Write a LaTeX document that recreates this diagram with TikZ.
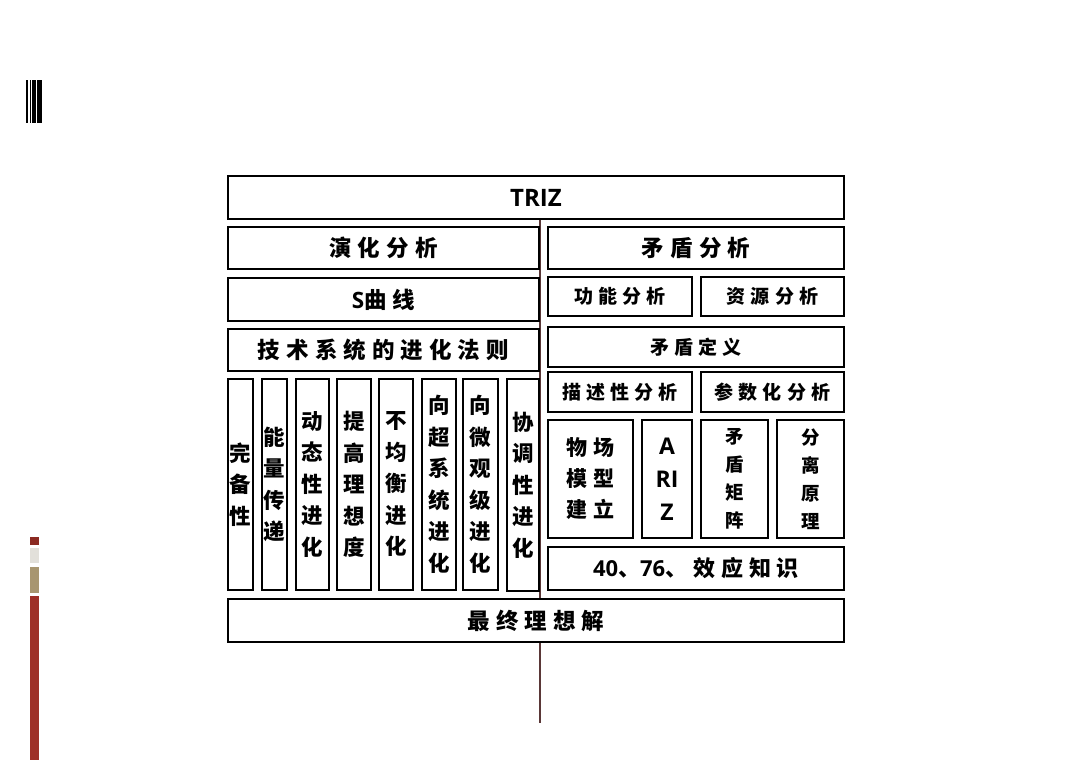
\documentclass[tikz,border=0pt]{standalone}
\usepackage{fontspec}
\usepackage{xcolor}
\usepackage{tikz}
\newfontfamily\cjk{Noto Sans CJK SC}
\newfontfamily\cjksp[LetterSpace=27]{Noto Sans CJK SC}
\newfontfamily\lat{Open Sans}
\definecolor{axisline}{RGB}{90,55,55}
\definecolor{stripdark}{RGB}{139,42,34}
\definecolor{stripgray}{RGB}{226,224,218}
\definecolor{striptan}{RGB}{168,150,112}
\definecolor{stripred}{RGB}{158,48,40}
\tikzset{
  box/.style={draw, line width=1.5pt, fill=white, inner sep=0pt, align=center},
  wh/.style 2 args={minimum width=#1pt, minimum height=#2pt},
  bigtext/.style={font=\cjksp\bfseries\fontsize{22.5}{26}\selectfont},
  midtext/.style={font=\cjksp\bfseries\fontsize{19}{23}\selectfont},
  coltext/.style={font=\cjk\bfseries\fontsize{21.5}{31.5}\selectfont},
}

\begin{document}
\begin{tikzpicture}[x=1pt, y=-1pt]
\useasboundingbox (0,0) rectangle (1080,760);

% Slide decoration
\fill (26,80) rectangle (27.5,123);
\fill (30,80) rectangle (31.3,123);
\fill (32.2,80) rectangle (36,123);
\fill (37,80) rectangle (42,123);
\fill[stripdark] (30,537) rectangle (39,545);
\fill[stripgray] (30,548) rectangle (39,563);
\fill[striptan] (30,567) rectangle (39,593);
\fill[stripred] (30,596) rectangle (39,760);

% Middle axis
\coordinate (axtop) at (540,219);
\coordinate (axbot) at (540,723);
\draw[axisline, line width=1.3pt] (axtop) -- (axbot);

% Top and bottom
\node[box, wh={616}{43}, font=\lat\bfseries\fontsize{24}{28}\selectfont] (triz) at (536,197.5) {TRIZ};
\node[box, wh={616}{43}, bigtext] (ideal) at (536,620.5) {最终理想解};

% Evolution side
\node[box, wh={311}{42}, bigtext] (evo) at (383.5,248) {演化分析};
\node[box, wh={311}{43}, bigtext] (scurve) at (383.5,299.5) {{\lat\bfseries S}曲线};
\node[box, wh={311}{42}, bigtext] (laws) at (383.5,350) {技术系统的进化法则};

\node[box, wh={25}{211}, coltext] (law1) at (240.5,484.5) {完\\备\\性};
\node[box, wh={25}{211}, coltext] (law2) at (274.5,484.5) {能\\量\\传\\递};
\node[box, wh={33}{211}, coltext] (law3) at (312.5,484.5) {动\\态\\性\\进\\化};
\node[box, wh={34}{211}, coltext] (law4) at (354,484.5) {提\\高\\理\\想\\度};
\node[box, wh={34}{211}, coltext] (law5) at (396,484.5) {不\\均\\衡\\进\\化};
\node[box, wh={34}{211}, coltext] (law6) at (439,484.5) {向\\超\\系\\统\\进\\化};
\node[box, wh={35}{211}, coltext] (law7) at (480.5,484.5) {向\\微\\观\\级\\进\\化};
\node[box, wh={32}{212}, coltext] (law8) at (523,485) {协\\调\\性\\进\\化};

% Contradiction side
\node[box, wh={296}{42}, bigtext] (contra) at (696,248) {矛盾分析};
\node[box, wh={144}{39}, midtext] (func) at (620,296.5) {功能分析};
\node[box, wh={143}{39}, midtext] (res) at (772.5,296.5) {资源分析};
\node[box, wh={296}{40}, midtext] (cdef) at (696,347) {矛盾定义};
\node[box, wh={144}{40}, midtext] (desc) at (620,392) {描述性分析};
\node[box, wh={143}{40}, midtext] (param) at (772.5,392) {参数化分析};

\node[box, wh={85}{118}, font=\cjksp\bfseries\fontsize{21}{31}\selectfont] (sufield) at (590.5,479) {物场\\模型\\建立};
\node[box, wh={50}{118}, font=\lat\bfseries\fontsize{23}{33}\selectfont] (ariz) at (667,479) {A\\RI\\Z};
\node[box, wh={67}{118}, font=\cjk\bfseries\fontsize{18.5}{28}\selectfont] (cmatrix) at (734.5,479) {矛\\盾\\矩\\阵};
\node[box, wh={67}{118}, font=\cjk\bfseries\fontsize{18.5}{28}\selectfont] (sep) at (810.5,479) {分\\离\\原\\理};
\node[box, wh={296}{43}, font=\cjksp\bfseries\fontsize{22}{26}\selectfont] (know) at (696,568.5) {{\lat\bfseries 40}、{\lat\bfseries 76}、效应知识};

\end{tikzpicture}
\end{document}
